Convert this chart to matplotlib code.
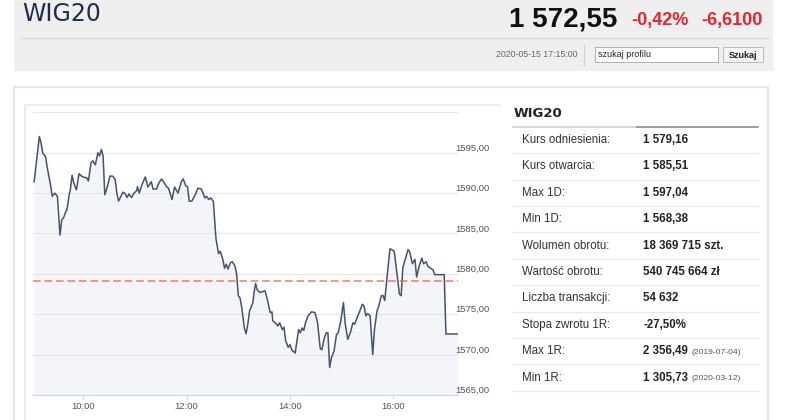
import matplotlib
matplotlib.use('Agg')
import matplotlib.pyplot as plt
from matplotlib.patches import Rectangle
from matplotlib.lines import Line2D

plt.rcParams['font.family'] = ['Liberation Sans', 'DejaVu Sans']

# Intraday WIG20 quotes
times = [
    "09:03", "09:09", "09:11", "09:13", "09:16", "09:19", "09:22", "09:24", "09:27", "09:30",
    "09:33", "09:35", "09:37", "09:40", "09:41", "09:44", "09:45", "09:47", "09:49", "09:52",
    "09:53", "09:55", "09:58", "10:01", "10:04", "10:06", "10:09", "10:11", "10:14", "10:17",
    "10:19", "10:21", "10:23", "10:25", "10:28", "10:31", "10:34", "10:37", "10:39", "10:41",
    "10:46", "10:48", "10:51", "10:53", "10:56", "10:59", "11:02", "11:03", "11:05", "11:08",
    "11:12", "11:15", "11:19", "11:21", "11:25", "11:28", "11:31", "11:34", "11:37", "11:39",
    "11:43", "11:46", "11:50", "11:54", "11:56", "11:59", "12:01", "12:03", "12:06", "12:10",
    "12:13", "12:17", "12:19", "12:21", "12:23", "12:26", "12:28", "12:31", "12:34", "12:37",
    "12:39", "12:42", "12:44", "12:46", "12:48", "12:51", "12:53", "12:56", "12:58", "13:00",
    "13:02", "13:04", "13:07", "13:09", "13:11", "13:13", "13:17", "13:18", "13:20", "13:22",
    "13:25", "13:28", "13:31", "13:34", "13:37", "13:39", "13:40", "13:44", "13:46", "13:48",
    "13:51", "13:53", "13:55", "13:58", "14:00", "14:02", "14:06", "14:08", "14:10", "14:12",
    "14:14", "14:16", "14:18", "14:21", "14:25", "14:29", "14:32", "14:34", "14:35", "14:37",
    "14:39", "14:40", "14:42", "14:44", "14:46", "14:48", "14:51", "14:54", "14:56", "14:59",
    "15:02", "15:04", "15:07", "15:10", "15:13", "15:15", "15:18", "15:21", "15:24", "15:26",
    "15:28", "15:30", "15:33", "15:36", "15:38", "15:41", "15:43", "15:46", "15:48", "15:50",
    "15:53", "15:56", "15:58", "16:01", "16:04", "16:07", "16:09", "16:11", "16:15", "16:17",
    "16:19", "16:22", "16:25", "16:27", "16:30", "16:33", "16:35", "16:38", "16:40", "16:43",
    "16:46", "16:48", "16:59", "17:01", "17:15",
]
prices = [
    1591.4, 1597.0, 1596.2, 1594.9, 1594.6, 1592.7, 1591.0, 1589.6, 1590.0, 1589.6,
    1584.8, 1586.7, 1586.9, 1587.8, 1587.9, 1590.0, 1590.4, 1592.2, 1591.25, 1590.4,
    1591.0, 1592.4, 1592.1, 1591.95, 1591.9, 1591.5, 1593.75, 1594.0, 1593.5, 1595.0,
    1594.6, 1595.4, 1594.6, 1589.8, 1590.8, 1592.1, 1592.1, 1591.7, 1590.0, 1589.0,
    1590.1, 1590.0, 1589.45, 1589.9, 1589.45, 1590.0, 1590.3, 1590.8, 1590.0, 1591.0,
    1592.0, 1590.75, 1591.4, 1590.5, 1590.5, 1591.3, 1591.75, 1591.25, 1590.75, 1590.6,
    1589.2, 1590.75, 1590.0, 1591.45, 1591.75, 1590.9, 1590.8, 1589.0, 1589.0, 1589.8,
    1590.6, 1590.5, 1590.0, 1589.4, 1589.6, 1589.2, 1589.4, 1589.0, 1584.4, 1582.5,
    1582.8, 1581.8, 1580.7, 1581.2, 1580.6, 1581.4, 1581.5, 1581.0, 1580.0, 1577.3,
    1577.0, 1575.8, 1573.3, 1572.6, 1573.75, 1575.4, 1576.45, 1577.5, 1578.8, 1578.0,
    1577.7, 1577.8, 1577.9, 1576.7, 1575.2, 1575.3, 1574.2, 1573.8, 1573.55, 1573.95,
    1573.1, 1573.4, 1571.7, 1570.9, 1571.25, 1570.6, 1570.2, 1571.7, 1573.1, 1572.7,
    1573.3, 1573.0, 1573.95, 1574.8, 1575.3, 1575.2, 1573.95, 1571.9, 1570.8, 1570.6,
    1571.7, 1572.1, 1572.7, 1572.7, 1568.4, 1569.6, 1570.4, 1572.5, 1572.7, 1574.2,
    1576.45, 1573.9, 1571.9, 1572.7, 1573.95, 1573.75, 1574.6, 1575.4, 1576.25, 1576.0,
    1574.8, 1575.1, 1574.8, 1570.0, 1573.1, 1575.4, 1576.0, 1577.3, 1577.3, 1576.7,
    1580.0, 1583.1, 1583.0, 1582.8, 1580.2, 1577.5, 1577.3, 1580.8, 1582.3, 1583.0,
    1582.7, 1581.25, 1581.8, 1579.6, 1581.0, 1581.95, 1581.25, 1581.5, 1580.95, 1580.7,
    1580.5, 1579.9, 1579.9, 1572.55, 1572.55,
]
ref_price = 1579.16
y_ticks = [1565, 1570, 1575, 1580, 1585, 1590, 1595]
x_ticks = ["10:00", "12:00", "14:00", "16:00"]

# Side table
row_labels = ["Kurs odniesienia:", "Kurs otwarcia:", "Max 1D:", "Min 1D:", "Wolumen obrotu:",
              "Wartość obrotu:", "Liczba transakcji:", "Stopa zwrotu 1R:", "Max 1R:", "Min 1R:"]
row_values = ["1 579,16", "1 585,51", "1 597,04", "1 568,38", "18 369 715 szt.",
              "540 745 664 zł", "54 632", "-27,50%", "2 356,49", "1 305,73"]
row_notes = ["", "", "", "", "", "", "", "", "(2019-07-04)", "(2020-03-12)"]


def to_min(s):
    h, m = s.split(":")
    return int(h) * 60 + int(m)


t = [to_min(s) for s in times]

W, H = 786, 420
fig = plt.figure(figsize=(W / 100, H / 100), dpi=100)
fig.patch.set_facecolor('white')


def fx(x):
    return x / W


def fy(y):
    return 1 - y / H


def box(x0, y0, x1, y1, **kw):
    fig.add_artist(Rectangle((fx(x0), fy(y1)), fx(x1) - fx(x0), fy(y0) - fy(y1),
                             transform=fig.transFigure, **kw))


def seg(x0, y0, x1, y1, **kw):
    fig.add_artist(Line2D([fx(x0), fx(x1)], [fy(y0), fy(y1)], transform=fig.transFigure, **kw))


def txt(x, y, s, **kw):
    fig.text(fx(x), fy(y), s, **kw)


# header band
box(14, -2, 773, 70.7, facecolor='#efefef', edgecolor='none', zorder=-2)
txt(22, 14, "WIG20", family='DejaVu Sans', fontsize=17, color='#1d2d4d', va='center')
txt(617, 26.5, "1 572,55", fontsize=20, fontweight='bold', color='#111111', ha='right', va='baseline')
txt(689, 25.5, "-0,42%", fontsize=13, fontweight='bold', color='#e5262d', ha='right', va='baseline')
txt(763, 25.5, "-6,6100", fontsize=13, fontweight='bold', color='#e5262d', ha='right', va='baseline')
seg(21, 38.3, 768, 38.3, color='#d6d6d6', lw=1)
txt(577, 54.5, "2020-05-15 17:15:00", fontsize=6.3, color='#666666', ha='right', va='center')
seg(584, 45, 584, 65, color='#d2d2d2', lw=0.8)
box(594.5, 46.7, 718, 62.3, facecolor='white', edgecolor='#b0b0b0', lw=0.7)
txt(598.5, 54.5, "szukaj profilu", fontsize=6.5, color='#222222', va='center')
box(723, 47.3, 763, 62.3, facecolor='#f4f4f4', edgecolor='#bdbdbd', lw=0.7)
txt(743, 55, "Szukaj", fontsize=6.5, fontweight='bold', color='#222222', ha='center', va='center')

# panels
box(14, 87, 768, 430, facecolor='none', edgecolor='#e6e6e6', lw=1.5, zorder=-1)
seg(25, 104.5, 500, 104.5, color='#ececec', lw=1.5)
seg(25, 104.5, 25, 430, color='#ececec', lw=1.5)

# chart
ax = fig.add_axes([fx(33.3), fy(395), fx(458) - fx(33.3), fy(112.3) - fy(395)])
ax.set_facecolor('none')
ax.fill_between(t, prices, 1565, color='#f3f5f8', lw=0, zorder=1)
ax.plot(t, prices, color='#44536f', lw=1.1, zorder=3)
ax.axhline(ref_price, color='#f25f5c', lw=1.1, dashes=(5, 2.5), alpha=0.85, zorder=4)

ax.set_xlim(to_min("09:02"), to_min("17:15"))
ax.set_ylim(1565, 1600)
ax.set_yticks(y_ticks + [1600])
ax.set_yticklabels([f"{v},00" for v in y_ticks] + [""])
ax.yaxis.tick_right()
ax.tick_params(axis='y', length=0, pad=-2.2, labelsize=6.8, labelcolor='#555555')
for lab in ax.get_yticklabels():
    lab.set_va('bottom')
ax.grid(axis='y', color='#e6e6e6', lw=0.8, zorder=0)
ax.set_xticks([to_min(s) for s in x_ticks])
ax.set_xticklabels(x_ticks)
ax.tick_params(axis='x', length=3, width=0.8, color='#ccd6eb', pad=2, labelsize=6.8, labelcolor='#555555')
for side in ['top', 'left', 'right']:
    ax.spines[side].set_visible(False)
ax.spines['bottom'].set_color('#ccd6eb')
ax.spines['bottom'].set_linewidth(0.8)

# table
txt(513.3, 113.5, "WIG20", family='DejaVu Sans', fontsize=9.5, fontweight='bold', color='#222222', va='center')
seg(513, 127.3, 636.7, 127.3, color='#cfcfcf', lw=1.2)
seg(636.7, 127.3, 758.3, 127.3, color='#8c8c8c', lw=1.2)
for i, (lab, val, note) in enumerate(zip(row_labels, row_values, row_notes)):
    yc = 140 + i * 26.4
    txt(521.7, yc, lab, fontsize=8.3, color='#333333', va='center')
    txt(643.3, yc, val, fontsize=8.3, fontweight='bold', color='#222222', va='center')
    if note:
        txt(691.7, yc + 0.8, note, fontsize=6.1, color='#555555', va='center')
    seg(513, yc + 13.2, 758.3, yc + 13.2, color='#e8e8e8', lw=0.8)

fig.savefig('out.png', dpi=100)
